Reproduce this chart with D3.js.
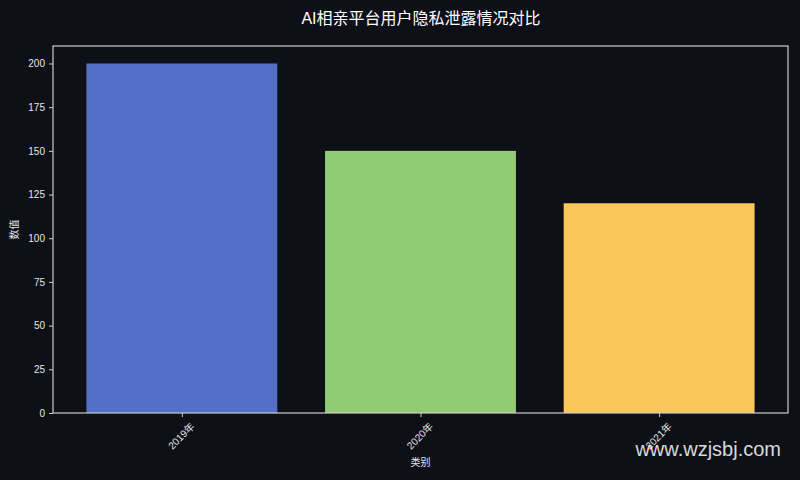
<!DOCTYPE html>
<html>
<head>
<meta charset="utf-8">
<script src="https://d3js.org/d3.v7.min.js"></script>
<style>
  body { margin: 0; background: #0d1017; }
  text { font-family: "Liberation Sans", "Noto Sans CJK SC", sans-serif; }
</style>
</head>
<body>
<script>
// data
var categories = ["2019年", "2020年", "2021年"];
var values = [200, 150, 120];
var barColors = ["#5470c6", "#91cc75", "#fac858"];
var yTicks = [0, 25, 50, 75, 100, 125, 150, 175, 200];

var W = 800, H = 480;
var mLeft = 53, mRight = 788, mTop = 46, mBottom = 413;

var svg = d3.select("body").append("svg")
  .attr("width", W).attr("height", H);

svg.append("rect").attr("width", W).attr("height", H).attr("fill", "#0d1017");

// matplotlib-like x: bars of width .8 at 0..n-1 with 5% margins
var n = categories.length;
var span = (n - 1) + 0.8;
var x = d3.scaleLinear()
  .domain([-0.4 - span * 0.05, n - 1 + 0.4 + span * 0.05])
  .range([mLeft, mRight]);
var y = d3.scaleLinear().domain([0, 210]).range([mBottom, mTop]);

svg.selectAll("rect.bar")
  .data(values)
  .enter()
  .append("rect")
  .attr("class", "bar")
  .attr("x", function(d, i) { return x(i - 0.4); })
  .attr("y", function(d) { return y(d); })
  .attr("width", function(d, i) { return x(i + 0.4) - x(i - 0.4); })
  .attr("height", function(d) { return y(0) - y(d); })
  .attr("fill", function(d, i) { return barColors[i]; });

// frame
svg.append("rect")
  .attr("x", mLeft).attr("y", mTop)
  .attr("width", mRight - mLeft).attr("height", mBottom - mTop)
  .attr("fill", "none").attr("stroke", "#cccccc").attr("stroke-width", 1.2);

// y axis
var yAxis = svg.append("g")
  .attr("transform", "translate(" + mLeft + ",0)")
  .call(d3.axisLeft(y).tickValues(yTicks).tickSize(4).tickPadding(4));
yAxis.select(".domain").remove();
yAxis.selectAll("line").attr("stroke", "#cccccc");
yAxis.selectAll("text").attr("fill", "#e6e6e6").style("font-size", "10px");

// x axis
var xAxis = svg.append("g")
  .attr("transform", "translate(0," + mBottom + ")")
  .call(d3.axisBottom(x).tickValues(d3.range(n)).tickSize(4)
    .tickFormat(function(i) { return categories[i]; }));
xAxis.select(".domain").remove();
xAxis.selectAll("line").attr("stroke", "#cccccc");
xAxis.selectAll("text")
  .attr("fill", "#e6e6e6")
  .style("font-size", "10px")
  .attr("text-anchor", "middle")
  .attr("dy", "0.35em")
  .attr("y", 0)
  .attr("transform", "translate(-1,23) rotate(-45)");

// titles
svg.append("text")
  .attr("x", 421).attr("y", 24)
  .attr("text-anchor", "middle")
  .attr("fill", "#ffffff")
  .style("font-size", "16px")
  .text("AI相亲平台用户隐私泄露情况对比");

svg.append("text")
  .attr("x", (mLeft + mRight) / 2).attr("y", 466)
  .attr("text-anchor", "middle")
  .attr("fill", "#e6e6e6")
  .style("font-size", "10px")
  .text("类别");

svg.append("text")
  .attr("transform", "translate(18," + ((mTop + mBottom) / 2) + ") rotate(-90)")
  .attr("text-anchor", "middle")
  .attr("fill", "#e6e6e6")
  .style("font-size", "10px")
  .text("数值");

// watermark
svg.append("text")
  .attr("x", 781).attr("y", 456)
  .attr("text-anchor", "end")
  .attr("fill", "#ffffff")
  .attr("fill-opacity", 0.85)
  .style("font-size", "20px")
  .text("www.wzjsbj.com");
</script>
</body>
</html>
